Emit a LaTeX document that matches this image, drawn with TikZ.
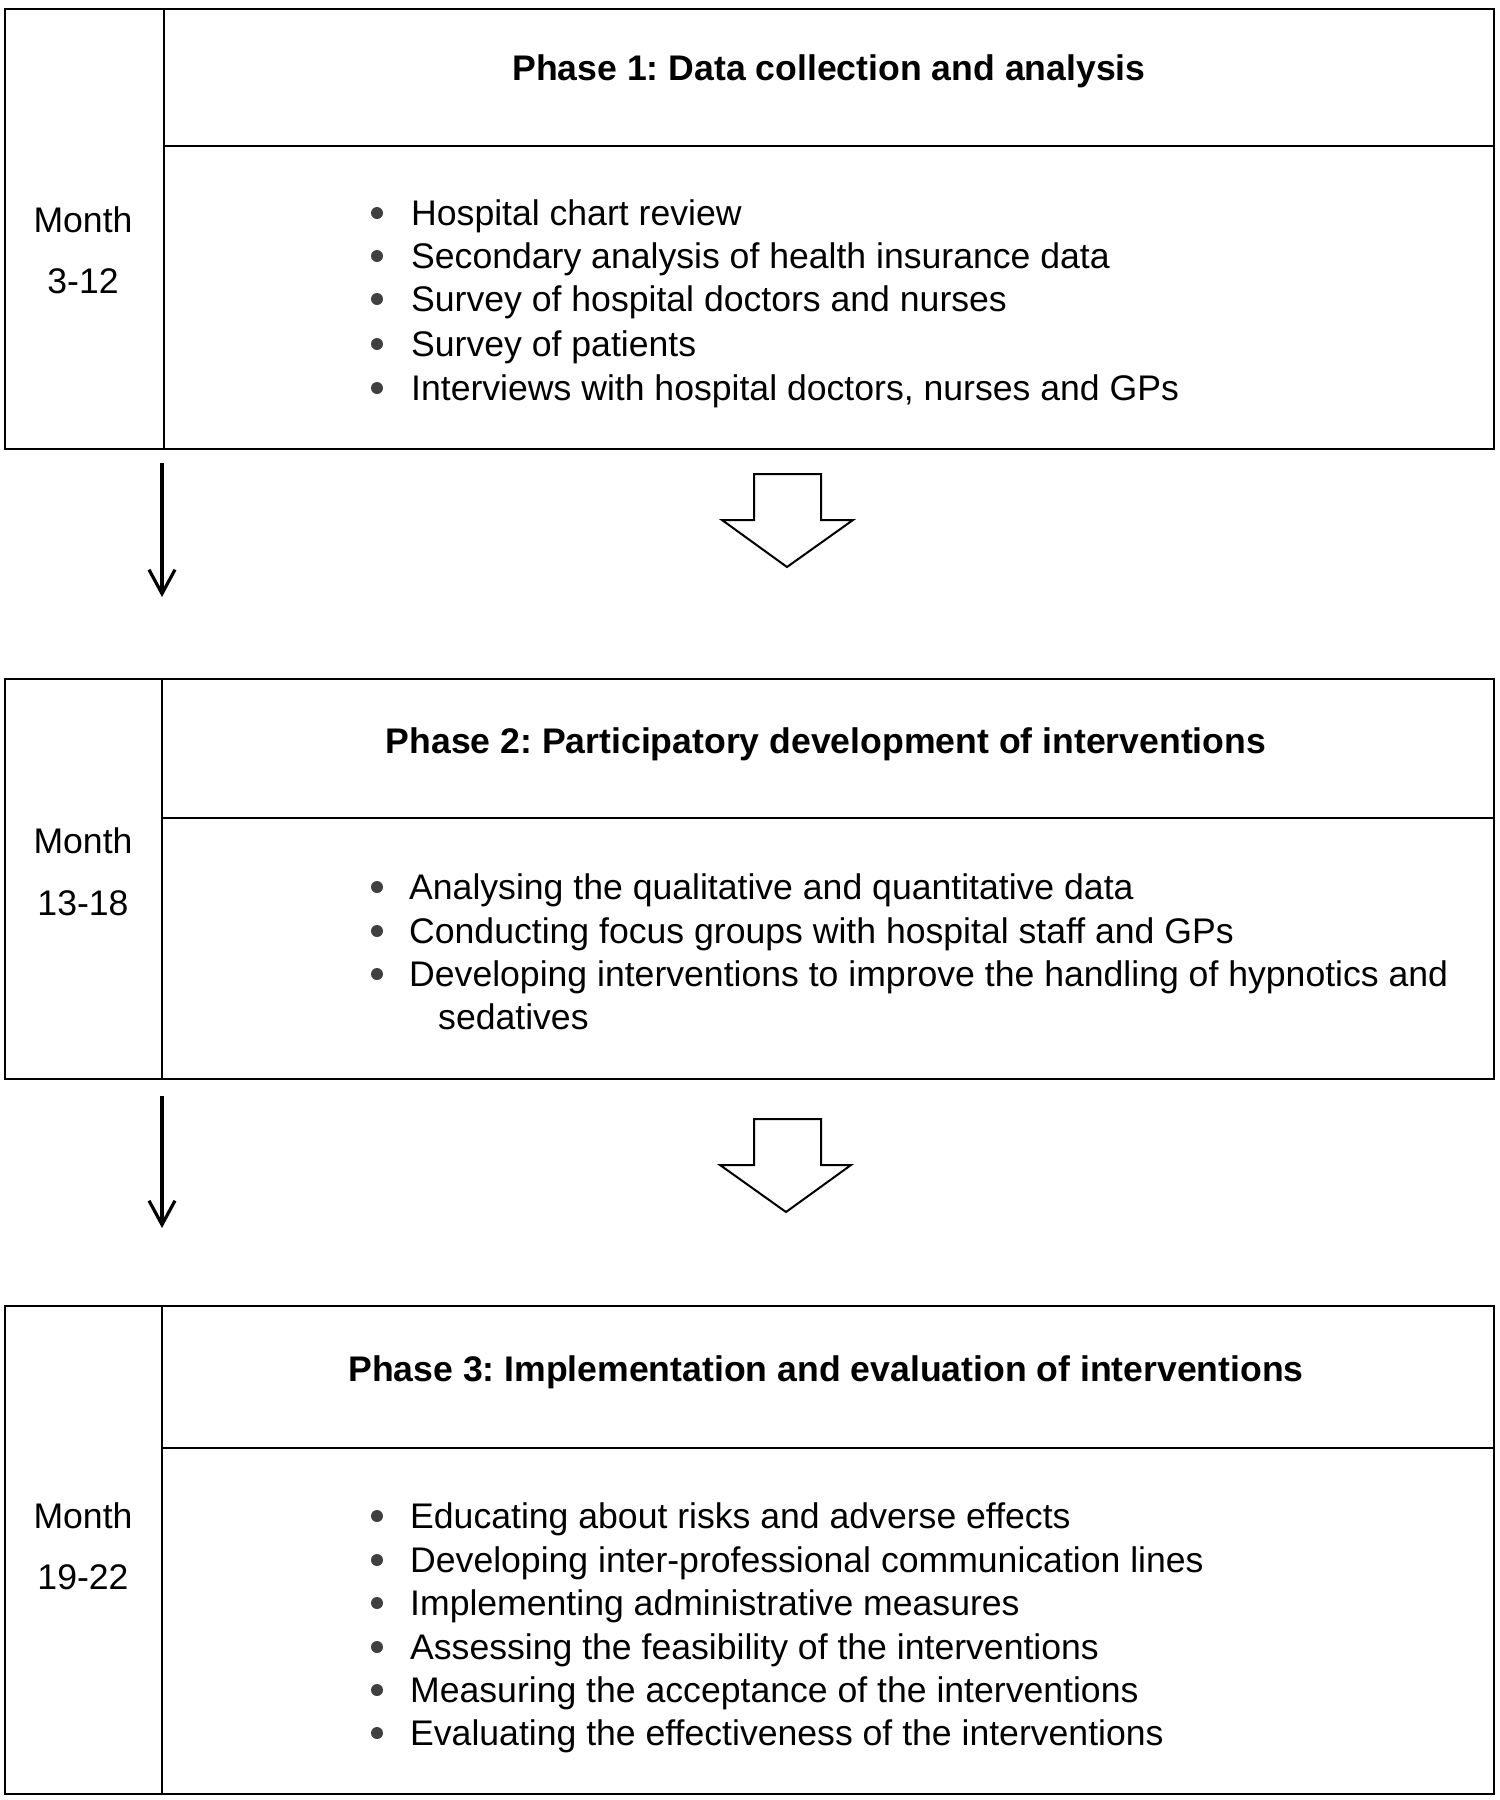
\documentclass[tikz,border=0pt]{standalone}
\usepackage{fontspec}
\setmainfont{Liberation Sans}
\usetikzlibrary{arrows.meta}
\frenchspacing
\begin{document}
\begin{tikzpicture}[x=1pt,y=-1pt,
  frame/.style={draw, line width=1.6pt},
  ttl/.style={font=\fontsize{35.6}{42}\selectfont\bfseries, anchor=base, inner sep=0pt},
  month/.style={font=\fontsize{35.6}{42}\selectfont, anchor=base, inner sep=0pt},
  itm/.style={font=\fontsize{35.6}{42}\selectfont, anchor=base west, inner sep=0pt},
  bul/.style={circle, fill=black!75, inner sep=0pt, minimum size=12pt},
  thinarrow/.style={line width=3.2pt, -{Straight Barb[length=24pt,width=26pt,line width=3.2pt]}},
  blockarrow/.style={draw, line width=2pt, fill=white, line join=miter}]
\useasboundingbox (0,0) rectangle (1500,1800);

% ---------- Phase 1 ----------
\draw[frame] (5,9) rectangle (1494,449);
\draw[frame] (164,9) -- (164,449);
\draw[frame] (164,146) -- (1494,146);
\node[ttl] (t1) at (829,80) {Phase 1: Data collection and analysis};
\node[month] (m1a) at (83,232) {Month};
\node[month] (m1b) at (83,293) {3-12};
\foreach \y/\t [count=\k] in {212/Hospital chart review,
  255/Secondary analysis of health insurance data,
  298/Survey of hospital doctors and nurses,
  343/Survey of patients,
  387/{Interviews with hospital doctors, nurses and GPs}}{
  \node[bul] (p1b\k) at (377,\y+1) {};
  \node[itm] (p1i\k) at (411,\y+13) {\t};
}

% arrows 1 -> 2
\coordinate (a1s) at (162,463);
\coordinate (a1e) at (162,597);
\draw[thinarrow] (a1s) -- (a1e);
\draw[blockarrow] (754,474) -- (821,474) -- (821,520) -- (853,520) -- (787,567)
  -- (722,520) -- (754,520) -- cycle;

% ---------- Phase 2 ----------
\draw[frame] (5,679) rectangle (1494,1079);
\draw[frame] (162,679) -- (162,1079);
\draw[frame] (162,818) -- (1494,818);
\node[ttl] (t2) at (826,753) {Phase 2: Participatory development of interventions};
\node[month] (m2a) at (83,853) {Month};
\node[month] (m2b) at (83,915) {13-18};
\foreach \y/\t [count=\k] in {886/Analysing the qualitative and quantitative data,
  930/Conducting focus groups with hospital staff and GPs,
  973/Developing interventions to improve the handling of hypnotics and}{
  \node[bul] (p2b\k) at (377,\y+1) {};
  \node[itm] (p2i\k) at (409,\y+13) {\t};
}
\node[itm] (p2i4) at (438,1029) {sedatives};

% arrows 2 -> 3
\coordinate (a2s) at (162,1096);
\coordinate (a2e) at (162,1228);
\draw[thinarrow] (a2s) -- (a2e);
\draw[blockarrow] (754,1119) -- (821,1119) -- (821,1165) -- (851,1165) -- (786,1212)
  -- (720,1165) -- (754,1165) -- cycle;

% ---------- Phase 3 ----------
\draw[frame] (5,1306) rectangle (1494,1794);
\draw[frame] (162,1306) -- (162,1794);
\draw[frame] (162,1448) -- (1494,1448);
\node[ttl] (t3) at (826,1381) {Phase 3: Implementation and evaluation of interventions};
\node[month] (m3a) at (83,1528) {Month};
\node[month] (m3b) at (83,1589) {19-22};
\foreach \y/\t [count=\k] in {1515/Educating about risks and adverse effects,
  1559/Developing inter-professional communication lines,
  1602/Implementing administrative measures,
  1646/Assessing the feasibility of the interventions,
  1689/Measuring the acceptance of the interventions,
  1732/Evaluating the effectiveness of the interventions}{
  \node[bul] (p3b\k) at (377,\y+1) {};
  \node[itm] (p3i\k) at (410,\y+13) {\t};
}
\end{tikzpicture}
\end{document}
